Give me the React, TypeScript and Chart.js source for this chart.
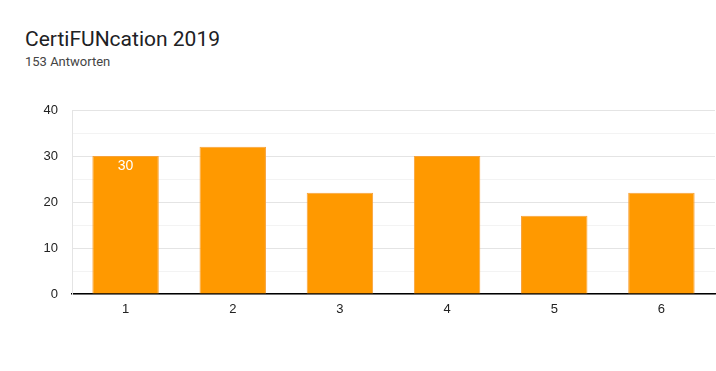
import React, { useEffect, useRef } from "react";
import { Chart, registerables } from "chart.js";

Chart.register(...registerables);

const TITLE = "CertiFUNcation 2019";
const SUBTITLE = "153 Antworten";
const categories = ["1", "2", "3", "4", "5", "6"];
const values = [30, 32, 22, 30, 17, 22];
const labeledIndexes = [0];
const yTicks = [0, 10, 20, 30, 40];

const ORANGE = "#ff9900";

export default function App() {
  const ref = useRef<HTMLCanvasElement | null>(null);

  useEffect(() => {
    if (!ref.current) return;
    const labelPlugin = {
      id: "barLabel",
      afterDatasetsDraw(chart: any) {
        const ctx = chart.ctx;
        const meta = chart.getDatasetMeta(0);
        ctx.save();
        ctx.fillStyle = "#ffffff";
        ctx.font = "14px 'Liberation Sans', Arial, sans-serif";
        ctx.textAlign = "center";
        ctx.textBaseline = "middle";
        labeledIndexes.forEach((i) => {
          const el = meta.data[i];
          ctx.fillText(String(values[i]), el.x, el.y + 10);
        });
        ctx.restore();
      },
    };
    const chart = new Chart(ref.current, {
      type: "bar",
      data: {
        labels: categories,
        datasets: [
          {
            data: values,
            backgroundColor: ORANGE,
            borderColor: "#f7a23a",
            borderWidth: 1,
            categoryPercentage: 0.62,
            barPercentage: 1,
          },
        ],
      },
      options: {
        responsive: false,
        animation: false,
        layout: { padding: { top: 110, right: 1, left: 0, bottom: 0 } },
        plugins: {
          legend: { display: false },
          tooltip: { enabled: false },
          title: { display: false },
        },
        scales: {
          x: {
            grid: { display: false, drawTicks: false },
            border: { color: "#000000", width: 1.5 },
            ticks: {
              color: "#222222",
              font: { family: "'Liberation Sans', Arial, sans-serif", size: 13 },
              padding: 8,
            },
            afterFit: (s: any) => {
              s.height = 77;
            },
          },
          y: {
            min: 0,
            max: 40,
            afterBuildTicks: (s: any) => {
              const t: any[] = [];
              for (let v = 0; v <= 40; v += 5) t.push({ value: v });
              s.ticks = t;
            },
            ticks: {
              color: "#222222",
              font: { family: "'Liberation Sans', Arial, sans-serif", size: 13 },
              padding: 14,
              callback: (v: any) => (yTicks.includes(Number(v)) ? String(v) : ""),
            },
            grid: {
              drawTicks: false,
              color: (c: any) =>
                c.tick && c.tick.value % 10 === 0 ? "#e4e4e4" : "#f3f3f3",
            },
            border: { color: "#e4e4e4" },
            afterFit: (s: any) => {
              s.width = 72;
            },
          },
        },
      },
      plugins: [labelPlugin],
    });
    return () => chart.destroy();
  }, []);

  return (
    <div
      style={{
        position: "fixed",
        left: 0,
        top: 0,
        width: 716,
        height: 371,
        background: "#ffffff",
      }}
    >
      <div
        style={{
          position: "absolute",
          left: 25,
          top: 27,
          fontFamily: "Roboto, Arial, sans-serif",
          fontSize: 21,
          color: "#202124",
          whiteSpace: "nowrap",
        }}
      >
        {TITLE}
      </div>
      <div
        style={{
          position: "absolute",
          left: 25,
          top: 54,
          fontFamily: "Roboto, Arial, sans-serif",
          fontSize: 13,
          color: "#444444",
          whiteSpace: "nowrap",
        }}
      >
        {SUBTITLE}
      </div>
      <canvas
        ref={ref}
        width={716}
        height={371}
        style={{ position: "absolute", left: 0, top: 0 }}
      />
    </div>
  );
}
